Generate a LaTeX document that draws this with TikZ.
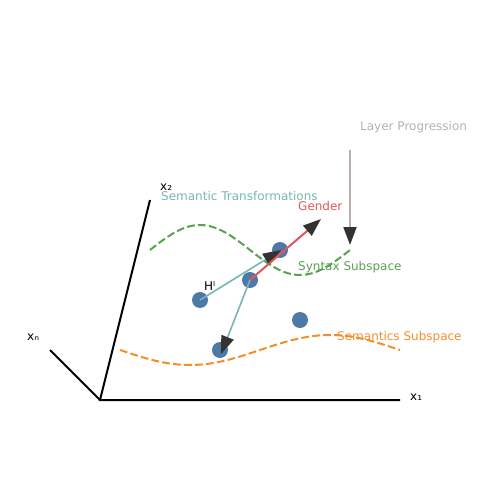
\documentclass[tikz,border=0pt]{standalone}
\usepackage{fontspec}
\setmainfont{DejaVu Sans}
\usetikzlibrary{arrows.meta}
\definecolor{tabblue}{HTML}{4E79A7}
\definecolor{tabteal}{HTML}{76B7B2}
\definecolor{tabred}{HTML}{E15759}
\definecolor{taborange}{HTML}{F28E2B}
\definecolor{tabgreen}{HTML}{59A14F}
\definecolor{tabgray}{HTML}{BAB0AC}
\definecolor{headgray}{HTML}{333333}
\tikzset{
  lbl/.style={anchor=base west, inner sep=0pt, font=\fontsize{12}{14}\selectfont},
  axisline/.style={line width=2pt, black},
  dot/.style={fill=tabblue},
  headtip/.style={-{Triangle[length=18pt,width=13pt,color=headgray]}},
  shiftline/.style={headtip, line width=1.6pt, draw=tabteal},
  subsp/.style={dash pattern=on 7.7pt off 3.3pt, line width=2pt},
}

\begin{document}
\begin{tikzpicture}[x=1pt, y=-1pt]
\useasboundingbox (0,0) rectangle (500,500);
% subspaces
\draw[subsp, draw=tabgreen] plot[domain=150:350, samples=80, smooth] (\x, {250-25*sin(1.8*(\x-150))});
\draw[subsp, draw=taborange] plot[domain=120:400, samples=80, smooth] (\x, {350+15*sin(1.2857*(\x-120))});
% axes
\coordinate (origin) at (100,400);
\coordinate (xoneend) at (400,400);
\coordinate (xtwoend) at (150,200);
\coordinate (xnend) at (50,350);
\draw[axisline] (xtwoend) -- (origin) -- (xoneend);
\draw[axisline] (origin) -- (xnend);
% hidden states
\coordinate (h1) at (200,300);
\coordinate (h2) at (250,280);
\coordinate (h3) at (280,250);
\coordinate (h4) at (300,320);
\coordinate (h5) at (220,350);
\foreach \p in {h1,h2,h3,h4,h5}
  \fill[dot] (\p) circle (8pt);
% transformations
\coordinate (gendertip) at (321,219);
\coordinate (tealtip) at (281,250);
\coordinate (lowtip) at (221,354);
\draw[shiftline] (h1) -- (tealtip);
\draw[shiftline] (h2) -- (lowtip);
\draw[headtip, line width=2pt, draw=tabred] (h2) -- (gendertip);
% layer progression
\coordinate (laytop) at (350,150);
\coordinate (laybot) at (350,245);
\draw[headtip, line width=2pt, draw=tabgray] (laytop) -- (laybot);
% labels
\node[lbl, text=tabgray] (layer) at (360,130) {Layer Progression};
\node[lbl, text=tabteal] (trans) at (161,200) {Semantic Transformations};
\node[lbl, text=tabred] (gender) at (298,210) {Gender};
\node[lbl, text=tabgreen] (syntax) at (298,270) {Syntax Subspace};
\node[lbl, text=taborange] (sem) at (337,340) {Semantics Subspace};
\node[lbl] (hl) at (204,290) {Hˡ};
\node[lbl] (xtwo) at (160,190) {x₂};
\node[lbl] (xn) at (27,340) {xₙ};
\node[lbl] (xone) at (410,400) {x₁};
\end{tikzpicture}
\end{document}
